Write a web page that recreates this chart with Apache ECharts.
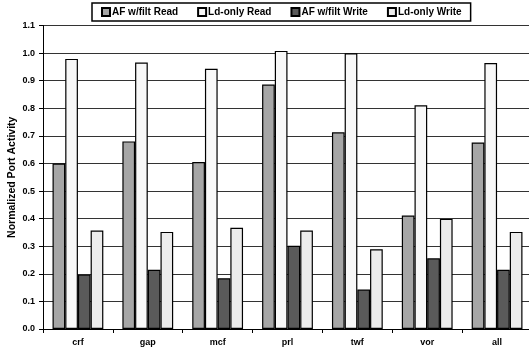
<!DOCTYPE html>
<html><head><meta charset="utf-8">
<script src="https://cdn.jsdelivr.net/npm/echarts@6/dist/echarts.min.js"></script>
<style>html,body{margin:0;padding:0;background:#fff}#c{width:529px;height:351px}</style>
</head><body><div id="c"></div>
<script>
var categories = ['crf','gap','mcf','prl','twf','vor','all'];
var afRead = [0.60, 0.68, 0.605, 0.886, 0.713, 0.411, 0.676];
var ldRead = [0.979, 0.966, 0.943, 1.008, 0.999, 0.811, 0.964];
var afWrite = [0.197, 0.215, 0.184, 0.302, 0.143, 0.256, 0.215];
var ldWrite = [0.357, 0.352, 0.367, 0.357, 0.289, 0.399, 0.352];
var seriesNames = ['AF w/filt Read','Ld-only Read','AF w/filt Write','Ld-only Write'];
var colors = ['#a6a6a6','#f8f8f8','#5a5a5a','#ececec'];
var F = 'Arial, "Liberation Sans", sans-serif';
var chart = echarts.init(document.getElementById('c'), null, {renderer:'canvas'});
var data = [afRead, ldRead, afWrite, ldWrite];
chart.setOption({
  animation: false,
  textStyle: {fontFamily: F},
  legend: {
    left: 92, top: 3, icon: 'rect',
    itemWidth: 8, itemHeight: 8, itemGap: 19,
    borderColor: '#000', borderWidth: 1.5, padding: [4, 9, 4, 9],
    textStyle: {fontFamily: F, fontWeight: 'bold', fontSize: 10, color: '#000', padding: [0,0,0,-3]},
    data: seriesNames
  },
  grid: {left: 43, right: -3, top: 25.5, bottom: 22, outerBoundsMode: 'none', containLabel: false},
  xAxis: {
    type: 'category', data: categories,
    axisLine: {lineStyle: {color: '#000', width: 1}},
    axisTick: {show: true, length: 4, inside: false, lineStyle: {color: '#000'}},
    axisLabel: {fontFamily: F, fontWeight: 'bold', fontSize: 9, color: '#000', margin: 9}
  },
  yAxis: {
    type: 'value', min: 0, max: 1.1, interval: 0.1,
    name: 'Normalized Port Activity', nameLocation: 'middle', nameGap: 25, nameRotate: 90,
    nameMoveOverlap: false,
    nameTextStyle: {fontFamily: F, fontWeight: 'bold', fontSize: 10.5, color: '#000'},
    axisLine: {show: true, lineStyle: {color: '#000'}},
    axisTick: {show: true, length: 4, lineStyle: {color: '#000'}},
    axisLabel: {fontFamily: F, fontWeight: 'bold', fontSize: 9, color: '#000', margin: 8,
      formatter: function(v){return v.toFixed(1);}},
    splitLine: {lineStyle: {color: '#333', width: 1}}
  },
  series: seriesNames.map(function(n, i){
    return {
      name: n, type: 'bar', data: data[i], barWidth: 12.7, barGap: '0%',
      itemStyle: {color: colors[i], borderColor: '#000', borderWidth: 1.2}
    };
  })
});
</script></body></html>
